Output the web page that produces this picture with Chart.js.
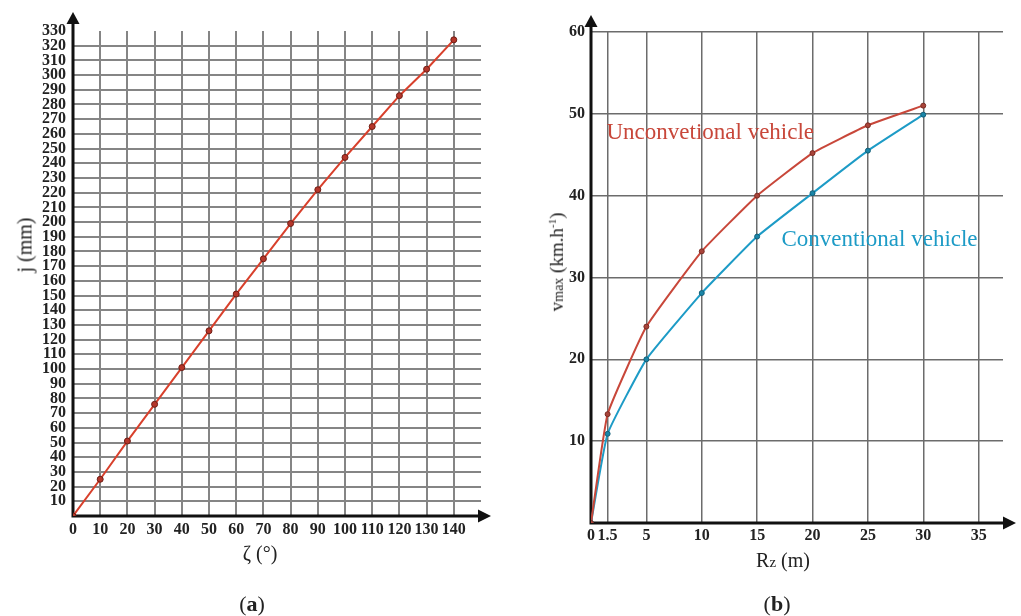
<!DOCTYPE html>
<html>
<head>
<meta charset="utf-8">
<script src="https://cdn.jsdelivr.net/npm/chart.js@4.4.1/dist/chart.umd.min.js"></script>
<style>
  html, body { margin: 0; padding: 0; background: #fff; }
  #wrap { position: relative; width: 1021px; height: 616px; overflow: hidden; font-family: "Liberation Serif", "DejaVu Serif", serif; }
  canvas { position: absolute; top: 0; }
  .lbl { position: absolute; transform: translate(-50%, -50%); white-space: nowrap; color: #222; }
  .rot { transform: translate(-50%, -50%) rotate(-90deg); }
</style>
</head>
<body>
<div id="wrap">
  <canvas id="chartA" width="510" height="616" style="left:0"></canvas>
  <canvas id="chartB" width="511" height="616" style="left:510px"></canvas>

  <div class="lbl rot" style="left:25px; top:245px; font-size:20px;">j (mm)</div>
  <div class="lbl" style="left:260px; top:553px; font-size:20px;">ζ (°)</div>
  <div class="lbl" style="left:252px; top:604px; font-size:22px;">(<b>a</b>)</div>

  <div class="lbl rot" style="left:557px; top:262px; font-size:19px;">v<span style="font-size:14px">max</span> (km.h<sup style="font-size:11px">-1</sup>)</div>
  <div class="lbl" style="left:783px; top:560px; font-size:20px;">R<span style="font-size:15px">z</span> (m)</div>
  <div class="lbl" style="left:777px; top:604px; font-size:22px;">(<b>b</b>)</div>
</div>

<script>
// chart (a): j versus zeta
const zetaDeg = [0, 10, 20, 30, 40, 50, 60, 70, 80, 90, 100, 110, 120, 130, 140];
const jMm = [0, 25, 51, 76, 101, 126, 151, 175, 199, 222, 244, 265, 286, 304, 324];

// chart (b): max speed versus turning radius
const rzM = [0, 1.5, 5, 10, 15, 20, 25, 30];
const vUnconventional = [0, 13.3, 24, 33.2, 40, 45.2, 48.6, 51];
const vConventional = [0, 10.9, 20, 28.1, 35, 40.3, 45.5, 49.9];
const rzTicks = [0, 1.5, 5, 10, 15, 20, 25, 30, 35];

const tickFont = { family: "Liberation Serif", size: 16, weight: "bold" };

// black axes with arrow heads
function arrowAxes(opts) {
  return {
    id: "arrowAxes",
    beforeDatasetsDraw(chart) {
      const { ctx, chartArea: a } = chart;
      const x0 = chart.scales.x.getPixelForValue(0);
      const y0 = chart.scales.y.getPixelForValue(0);
      const topTip = a.top - opts.up;
      const rightTip = a.right + opts.right;
      ctx.save();
      ctx.strokeStyle = "#111";
      ctx.fillStyle = "#111";
      ctx.lineWidth = 3;
      ctx.beginPath();
      ctx.moveTo(x0, y0);
      ctx.lineTo(x0, topTip + 8);
      ctx.moveTo(x0 - 1.5, y0);
      ctx.lineTo(rightTip - 8, y0);
      ctx.stroke();
      ctx.beginPath();
      ctx.moveTo(x0, topTip);
      ctx.lineTo(x0 - 6.5, topTip + 12);
      ctx.lineTo(x0 + 6.5, topTip + 12);
      ctx.closePath();
      ctx.fill();
      ctx.beginPath();
      ctx.moveTo(rightTip, y0);
      ctx.lineTo(rightTip - 13, y0 - 6.5);
      ctx.lineTo(rightTip - 13, y0 + 6.5);
      ctx.closePath();
      ctx.fill();
      ctx.restore();
    }
  };
}

// series names written inside plot (b)
const seriesNames = {
  id: "seriesNames",
  afterDatasetsDraw(chart) {
    const { ctx, scales } = chart;
    ctx.save();
    ctx.font = '23px "Liberation Serif"';
    ctx.textBaseline = "middle";
    ctx.fillStyle = "#c8473a";
    ctx.fillText("Unconvetional vehicle", scales.x.getPixelForValue(1.4), scales.y.getPixelForValue(47.7));
    ctx.fillStyle = "#1d9bc6";
    ctx.fillText("Conventional vehicle", scales.x.getPixelForValue(17.2), scales.y.getPixelForValue(34.6));
    ctx.restore();
  }
};

new Chart(document.getElementById("chartA"), {
  type: "line",
  data: {
    datasets: [{
      data: zetaDeg.map((z, i) => ({ x: z, y: jMm[i] })),
      borderColor: "#d8402c",
      borderWidth: 2,
      pointRadius: 3,
      pointBackgroundColor: "#b5362a",
      pointBorderColor: "#6e1d14",
      pointBorderWidth: 1,
      tension: 0
    }]
  },
  options: {
    responsive: false,
    animation: false,
    layout: { padding: { left: 0, right: 29, top: 31, bottom: 0 } },
    plugins: { legend: { display: false }, tooltip: { enabled: false } },
    scales: {
      x: {
        type: "linear",
        min: 0,
        max: 150,
        afterFit: (s) => { s.height = 100; },
        ticks: {
          stepSize: 10,
          padding: 4,
          color: "#222",
          font: tickFont,
          maxRotation: 0,
          autoSkip: false,
          callback: (v) => (v > 140 ? "" : v)
        },
        border: { display: false },
        grid: {
          drawTicks: false,
          lineWidth: 2,
          color: (c) => (c.tick.value === 0 || c.tick.value > 140 ? "rgba(0,0,0,0)" : "#858585")
        }
      },
      y: {
        min: 0,
        max: 330,
        afterFit: (s) => { s.width = 73; },
        ticks: {
          stepSize: 10,
          padding: 7,
          color: "#222",
          font: tickFont,
          autoSkip: false,
          callback: (v) => (v === 0 ? "" : v)
        },
        border: { display: false },
        grid: {
          drawTicks: false,
          lineWidth: 2,
          color: (c) => (c.tick.value === 0 || c.tick.value === 330 ? "rgba(0,0,0,0)" : "#858585")
        }
      }
    }
  },
  plugins: [arrowAxes({ up: 19, right: 10 })]
});

new Chart(document.getElementById("chartB"), {
  type: "line",
  data: {
    datasets: [
      {
        label: "Unconvetional vehicle",
        data: rzM.map((r, i) => ({ x: r, y: vUnconventional[i] })),
        borderColor: "#c8473a",
        borderWidth: 2,
        pointRadius: 2.5,
        pointBackgroundColor: "#a8443a",
        pointBorderColor: "#7a2a22",
        pointBorderWidth: 1,
        tension: 0.12
      },
      {
        label: "Conventional vehicle",
        data: rzM.map((r, i) => ({ x: r, y: vConventional[i] })),
        borderColor: "#1d9bc6",
        borderWidth: 2,
        pointRadius: 2.5,
        pointBackgroundColor: "#1a86a8",
        pointBorderColor: "#145f78",
        pointBorderWidth: 1,
        tension: 0.12
      }
    ]
  },
  options: {
    responsive: false,
    animation: false,
    layout: { padding: { left: 0, right: 18, top: 32, bottom: 0 } },
    plugins: { legend: { display: false }, tooltip: { enabled: false } },
    scales: {
      x: {
        type: "linear",
        min: 0,
        max: 37.2,
        afterFit: (s) => { s.height = 93; },
        afterBuildTicks: (s) => { s.ticks = rzTicks.map((v) => ({ value: v })); },
        ticks: {
          padding: 3,
          color: "#222",
          font: tickFont,
          maxRotation: 0,
          autoSkip: false,
          callback: (v) => v
        },
        border: { display: false },
        grid: {
          drawTicks: false,
          lineWidth: 1.5,
          color: (c) => (c.tick.value === 0 ? "rgba(0,0,0,0)" : "#6c6c6c")
        }
      },
      y: {
        min: 0,
        max: 60,
        afterFit: (s) => { s.width = 81; },
        ticks: {
          stepSize: 10,
          padding: 6,
          color: "#222",
          font: tickFont,
          callback: (v) => (v === 0 ? "" : v)
        },
        border: { display: false },
        grid: {
          drawTicks: false,
          lineWidth: 1.5,
          color: (c) => (c.tick.value === 0 ? "rgba(0,0,0,0)" : "#6c6c6c")
        }
      }
    }
  },
  plugins: [arrowAxes({ up: 17, right: 13 }), seriesNames]
});
</script>
</body>
</html>
